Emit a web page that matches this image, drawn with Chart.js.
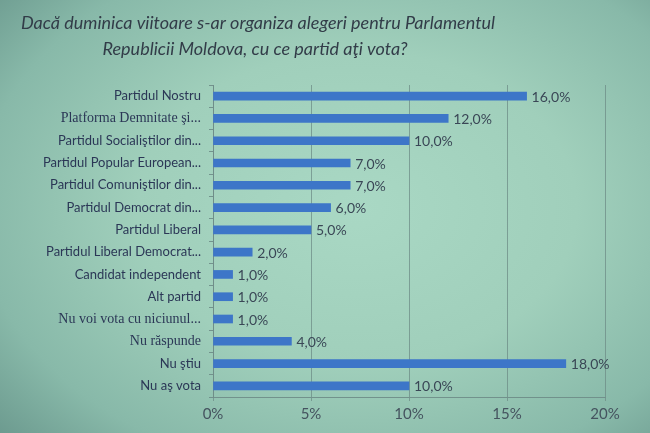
<!DOCTYPE html>
<html>
<head>
<meta charset="utf-8">
<script src="https://cdn.jsdelivr.net/npm/chart.js@4/dist/chart.umd.min.js"></script>
<style>
  html, body { margin: 0; padding: 0; width: 650px; height: 433px; overflow: hidden; }
  body { background: radial-gradient(ellipse 75% 80% at 55% 48%, #a9d8c4 0%, #a0cfbb 45%, #88b9a9 78%, #6a988d 100%); }
  #wrap { position: relative; width: 650px; height: 433px; }
  canvas { display: block; }
</style>
</head>
<body>
<div id="wrap"><canvas id="c" width="650" height="433"></canvas></div>
<script>
const titleLines = [
  "Dacă duminica viitoare s-ar organiza alegeri pentru Parlamentul",
  "Republicii Moldova, cu ce partid aţi vota?"
];
const categories = [
  "Partidul Nostru",
  "Platforma Demnitate şi...",
  "Partidul Socialiştilor din...",
  "Partidul Popular European...",
  "Partidul Comuniştilor din...",
  "Partidul Democrat din...",
  "Partidul Liberal",
  "Partidul Liberal Democrat...",
  "Candidat independent",
  "Alt partid",
  "Nu voi vota cu niciunul...",
  "Nu răspunde",
  "Nu ştiu",
  "Nu aş vota"
];
const values = [16, 12, 10, 7, 7, 6, 5, 2, 1, 1, 1, 4, 18, 10];
const serifLabels = [1, 10, 11];
const xTicks = [0, 5, 10, 15, 20];

const titlePlugin = {
  id: 'slideTitle',
  afterDraw(chart) {
    const ctx = chart.ctx;
    ctx.save();
    ctx.fillStyle = '#323c48';
    ctx.font = 'italic 18px Lato';
    ctx.textAlign = 'center';
    ctx.textBaseline = 'middle';
    ctx.fillText(titleLines[0], 258, 23);
    ctx.fillText(titleLines[1], 255, 49);
    ctx.restore();
  }
};

const valueLabels = {
  id: 'valueLabels',
  afterDatasetsDraw(chart) {
    const ctx = chart.ctx;
    const meta = chart.getDatasetMeta(0);
    ctx.save();
    ctx.fillStyle = '#3a4756';
    ctx.font = '14px Lato';
    ctx.textAlign = 'left';
    ctx.textBaseline = 'middle';
    meta.data.forEach((bar, i) => {
      const txt = values[i].toFixed(1).replace('.', ',') + '%';
      ctx.fillText(txt, bar.x + 5, bar.y + 1);
    });
    ctx.restore();
  }
};

new Chart(document.getElementById('c'), {
  type: 'bar',
  data: {
    labels: categories,
    datasets: [{
      data: values,
      backgroundColor: '#3d76c8',
      borderWidth: 0,
      barThickness: 8
    }]
  },
  options: {
    indexAxis: 'y',
    responsive: false,
    animation: false,
    layout: { padding: { top: 85, right: 45, bottom: 0, left: 0 } },
    plugins: {
      legend: { display: false },
      title: { display: false },
      tooltip: { enabled: false }
    },
    scales: {
      x: {
        min: 0,
        max: 20,
        afterFit(scale) { scale.height = 36; },
        afterBuildTicks(scale) { scale.ticks = xTicks.map(v => ({ value: v })); },
        ticks: {
          callback: v => v + '%',
          color: '#45535f',
          font: { family: 'Lato', size: 15 },
          padding: 4
        },
        grid: {
          color: 'rgba(110,140,135,0.75)',
          lineWidth: 1,
          tickLength: 4
        },
        border: { color: 'rgba(110,140,135,0.9)' }
      },
      y: {
        afterFit(scale) { scale.width = 213; },
        ticks: {
          color: '#2b3756',
          padding: 8,
          font: (c) => serifLabels.includes(c.index)
            ? { family: 'Liberation Serif', size: 14 }
            : { family: 'Lato', size: 13 }
        },
        grid: {
          drawOnChartArea: false,
          drawTicks: true,
          tickLength: 4,
          offset: true,
          color: 'rgba(110,140,135,0.9)'
        },
        border: { color: 'rgba(110,140,135,0.9)' }
      }
    }
  },
  plugins: [titlePlugin, valueLabels]
});
</script>
</body>
</html>
